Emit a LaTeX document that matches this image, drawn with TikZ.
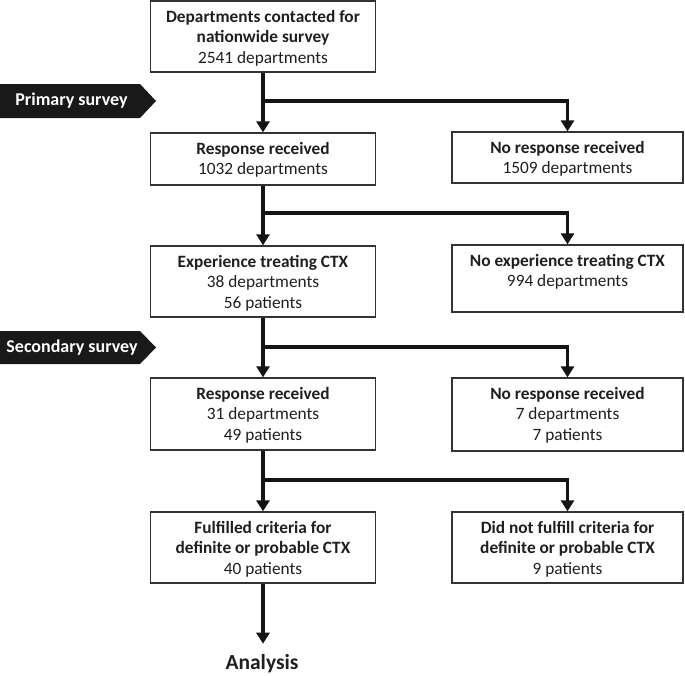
\documentclass[tikz,border=0pt]{standalone}
\usepackage{fontspec}
\setmainfont{Carlito}
\usetikzlibrary{arrows.meta}
\newcommand\fcb[3]{\parbox[c][#1][t]{#2}{\centering\rule{0pt}{21pt}#3}}
\begin{document}
\begin{tikzpicture}[x=1pt,y=-1pt,
  every node/.style={font=\fontsize{17.3}{20.5}\selectfont, text=black!88},
  box/.style={draw=black!80, line width=1.3pt, inner sep=0pt, fill=white},
  conn/.style={line width=3.6pt, draw=black!92, -{Triangle[length=11pt,width=13pt]}, line join=miter},
  bar/.style={fill=black!90},
  bartext/.style={text=white, font=\fontsize{18}{20}\selectfont\bfseries, inner sep=0pt},
]
\useasboundingbox (0,0) rectangle (685,675);

% banners
\fill[bar] (0,84) -- (140,84) -- (156,101) -- (140,118) -- (0,118) -- cycle;
\node[bartext] (prim) at (71.5,101) {Primary survey};
\fill[bar] (0,331) -- (140,331) -- (156,347.5) -- (140,364) -- (0,364) -- cycle;
\node[bartext] (sec) at (72,347.5) {Secondary survey};

% boxes
\node[box] (top) at (263,36.5) {\fcb{71pt}{225pt}{\textbf{Departments contacted for}\\\textbf{nationwide survey}\\2541 departments}};
\node[box] (resp1) at (263,159) {\fcb{52pt}{225pt}{\textbf{Response received}\\1032 departments}};
\node[box] (noresp1) at (567.5,157.5) {\fcb{51pt}{231pt}{\textbf{No response received}\\1509 departments}};
\node[box] (exp) at (263,281.5) {\fcb{71pt}{225pt}{\textbf{Experience treating CTX}\\38 departments\\56 patients}};
\node[box] (noexp) at (567.5,278.5) {\fcb{67pt}{231pt}{\textbf{No experience treating CTX}\\994 departments}};
\node[box] (resp2) at (263,414) {\fcb{72pt}{225pt}{\textbf{Response received}\\31 departments\\49 patients}};
\node[box] (noresp2) at (567.5,414.5) {\fcb{73pt}{231pt}{\textbf{No response received}\\7 departments\\7 patients}};
\node[box] (ful) at (263,547.5) {\fcb{71pt}{225pt}{\textbf{Fulfilled criteria for}\\\textbf{definite or probable CTX}\\40 patients}};
\node[box] (notful) at (567.5,547.5) {\fcb{71pt}{231pt}{\textbf{Did not fulfill criteria for}\\\textbf{definite or probable CTX}\\9 patients}};
\node[anchor=base, inner sep=0pt, font=\fontsize{21.5}{24}\selectfont\bfseries] (ana) at (262,669) {Analysis};

% connectors
\coordinate (b1) at (263,101);
\coordinate (b2) at (263,213);
\coordinate (b3) at (263,347);
\coordinate (b4) at (263,480);
\draw[conn] (top.south) -- (resp1.north);
\draw[conn] (b1) -| (noresp1.north);
\draw[conn] (resp1.south) -- (exp.north);
\draw[conn] (b2) -| (noexp.north);
\draw[conn] (exp.south) -- (resp2.north);
\draw[conn] (b3) -| (noresp2.north);
\draw[conn] (resp2.south) -- (ful.north);
\draw[conn] (b4) -| (notful.north);
\draw[conn, shorten >=10pt] (ful.south) -- (ful.south |- ana.north);
\end{tikzpicture}
\end{document}
